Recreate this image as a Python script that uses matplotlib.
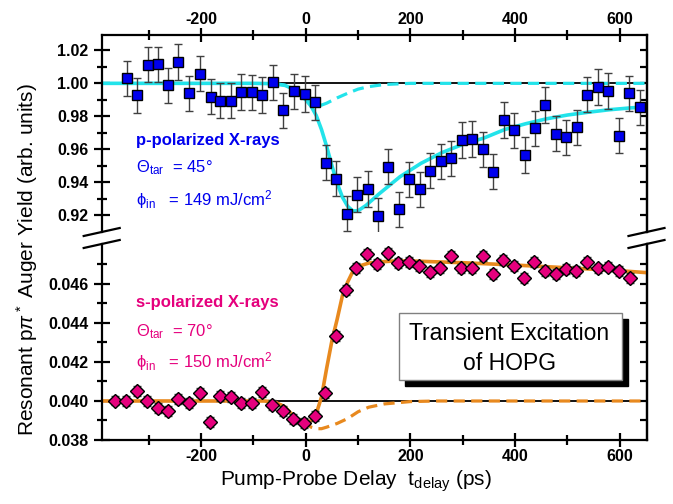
import matplotlib
matplotlib.use('Agg')
import matplotlib.pyplot as plt
import numpy as np
from matplotlib.patches import Rectangle
from matplotlib.lines import Line2D

plt.rcParams['font.family'] = ['Liberation Sans', 'DejaVu Sans']
plt.rcParams['mathtext.fontset'] = 'custom'
plt.rcParams['mathtext.rm'] = 'Liberation Sans'
plt.rcParams['mathtext.it'] = 'Liberation Sans:italic'
plt.rcParams['mathtext.bf'] = 'Liberation Sans:bold'

# p-polarized data (top panel)
p_delay = [-342, -322, -302, -283, -263, -244, -223, -203, -182, -163, -143, -123, -103, -83,
           -63, -43, -22, -2, 18, 38, 58, 78, 97, 118, 138, 158, 178, 198, 218, 238, 258, 277,
           298, 318, 338, 358, 378, 398, 418, 438, 458, 478, 498, 518, 538, 558, 578, 598, 618, 638]
p_yield = [1.003, 0.9927, 1.0113, 1.0115, 0.9988, 1.0129, 0.994, 1.0058, 0.9919, 0.9895, 0.9895,
           0.9947, 0.9945, 0.9929, 1.0006, 0.9836, 0.9952, 0.9935, 0.9885, 0.9519, 0.9422, 0.921,
           0.9325, 0.936, 0.9196, 0.9495, 0.9236, 0.9418, 0.9358, 0.947, 0.9527, 0.9545, 0.9656,
           0.9662, 0.960, 0.9464, 0.9778, 0.9715, 0.9565, 0.9727, 0.9868, 0.9695, 0.9673, 0.9733,
           0.9931, 0.9978, 0.9953, 0.9683, 0.9939, 0.9855]
p_err = 0.0107

# p-polarized fit (solid) and component (dashed)
p_fit_x = [-390, -100, -60, -40, -20, 0, 10, 20, 30, 40, 50, 60, 70, 80, 90, 100, 115, 140, 180,
           220, 260, 300, 340, 380, 420, 460, 500, 540, 580, 620, 652]
p_fit_y = [1.0, 1.0, 0.9998, 0.9988, 0.996, 0.990, 0.9862, 0.9805, 0.972, 0.9616, 0.950, 0.9394,
           0.931, 0.9255, 0.9226, 0.9228, 0.926, 0.933, 0.9434, 0.9515, 0.958, 0.963, 0.9668,
           0.972, 0.9755, 0.9785, 0.9808, 0.9825, 0.984, 0.9851, 0.9858]
p_dash_x = [-60, -40, -20, 0, 10, 20, 30, 40, 60, 80, 100, 120, 150, 200, 652]
p_dash_y = [0.9998, 0.9988, 0.996, 0.990, 0.9882, 0.9870, 0.9868, 0.9880, 0.9912, 0.994, 0.9965,
            0.998, 0.9993, 1.0, 1.0]

# s-polarized data (bottom panel)
s_delay = [-364, -344, -323, -303, -283, -264, -244, -224, -203, -183, -163, -143, -123, -103,
           -84, -64, -43, -24, -3, 18, 37, 58, 76, 95, 116, 137, 157, 177, 197, 217, 237, 256,
           277, 297, 317, 338, 357, 377, 398, 417, 437, 457, 478, 498, 517, 537, 558, 578, 599, 619]
s_yield = [0.04002, 0.0400, 0.0405, 0.0400, 0.03963, 0.0395, 0.04009, 0.03988, 0.04043, 0.03891,
           0.04027, 0.04022, 0.03991, 0.03991, 0.04046, 0.03981, 0.03949, 0.03908, 0.03889,
           0.03923, 0.0404, 0.04333, 0.04569, 0.04682, 0.04754, 0.04703, 0.04761, 0.04706,
           0.04714, 0.04692, 0.04662, 0.0468, 0.04744, 0.0468, 0.0468, 0.04745, 0.0465, 0.04723,
           0.04692, 0.04632, 0.04714, 0.04668, 0.04651, 0.04675, 0.04668, 0.04714, 0.0468,
           0.04689, 0.04668, 0.04632]
s_err = 0.00025

s_fit_x = [-390, -80, -60, -40, -20, 0, 10, 20, 30, 40, 50, 60, 70, 80, 90, 100, 120, 140, 170,
           200, 300, 400, 500, 600, 652]
s_fit_y = [0.040, 0.040, 0.03995, 0.0397, 0.03912, 0.03893, 0.03898, 0.03935, 0.0402, 0.0417,
           0.0431, 0.0442, 0.0454, 0.0461, 0.04665, 0.0469, 0.04707, 0.04713, 0.04718, 0.04718,
           0.04709, 0.04697, 0.04683, 0.04668, 0.04658]
s_dash_x = [-60, -40, -20, 0, 10, 20, 30, 40, 60, 80, 100, 120, 150, 200, 250, 652]
s_dash_y = [0.03995, 0.0397, 0.03912, 0.03885, 0.03866, 0.03858, 0.03858, 0.03866, 0.03885,
            0.0391, 0.03945, 0.03968, 0.03985, 0.03997, 0.040, 0.040]

W, H = 673, 504
def fx(px):
    return px / W
def fy(py):
    return 1 - py / H

cyan = '#22e3ea'
orange = '#e8891e'
blue = '#0000ee'
pink = '#e5007d'

fig = plt.figure(figsize=(W / 100, H / 100), dpi=100)
L, R = 101.7, 647
ax_top = fig.add_axes([fx(L), fy(232), (R - L) / W, (232 - 35) / H])
ax_bot = fig.add_axes([fx(L), fy(440), (R - L) / W, (440 - 244) / H])

xlim = (-390, 652)
for ax in (ax_top, ax_bot):
    ax.set_xlim(*xlim)
    for s in ax.spines.values():
        s.set_linewidth(1.6)
    ax.set_xticks([-200, 0, 200, 400, 600])
    ax.set_xticks([-300, -100, 100, 300, 500], minor=True)
    ax.tick_params(which='both', direction='inout', width=1.6, labelsize=11.5)
    ax.tick_params(axis='x', which='major', length=9.5)
    ax.tick_params(axis='x', which='minor', length=7)
    ax.tick_params(axis='y', which='major', length=12)
    ax.tick_params(axis='y', which='minor', length=7)

ax_top.set_ylim(0.9099, 1.0293)
ax_bot.set_ylim(0.038, 0.04805)

# top panel
ax_top.spines['bottom'].set_visible(False)
ax_top.xaxis.tick_top()
ax_top.tick_params(axis='x', which='both', bottom=False, top=True, labeltop=True,
                   labelbottom=False, pad=1)
ax_top.set_yticks(np.arange(0.92, 1.021, 0.02))
ax_top.set_yticks(np.arange(0.93, 1.011, 0.02), minor=True)
ax_top.set_yticklabels(['%.2f' % v for v in np.arange(0.92, 1.021, 0.02)], fontweight='bold')
ax_top.set_xticklabels(['-200', '0', '200', '400', '600'], fontweight='bold')

ax_top.axhline(1.0, color='black', lw=1.3, zorder=1)
ax_top.plot(p_dash_x, p_dash_y, color=cyan, lw=2.3, ls=(0, (3.5, 2)), zorder=2)
ax_top.plot(p_fit_x, p_fit_y, color=cyan, lw=2.6, zorder=2)
ax_top.errorbar(p_delay, p_yield, yerr=p_err, fmt='s', ms=7.5, mfc=blue, mec='black', mew=1.0,
                ecolor='#404040', elinewidth=1.0, capsize=3, capthick=1.0, zorder=3)

# bottom panel
ax_bot.spines['top'].set_visible(False)
ax_bot.tick_params(axis='x', which='both', top=False, pad=2)
ax_bot.set_yticks(np.arange(0.038, 0.0461, 0.002))
ax_bot.set_yticks(np.arange(0.039, 0.0471, 0.002), minor=True)
ax_bot.set_yticklabels(['%.3f' % v for v in np.arange(0.038, 0.0461, 0.002)], fontweight='bold')
ax_bot.set_xticklabels(['-200', '0', '200', '400', '600'], fontweight='bold')

ax_bot.axhline(0.040, color='black', lw=1.3, zorder=1)
ax_bot.plot(s_dash_x, s_dash_y, color=orange, lw=2.3, ls=(0, (3.5, 2)), zorder=2)
ax_bot.plot(s_fit_x, s_fit_y, color=orange, lw=2.6, zorder=2)
ax_bot.errorbar(s_delay, s_yield, yerr=s_err, fmt='D', ms=7.5, mfc=pink, mec='black', mew=1.0,
                ecolor='#404040', elinewidth=1.0, capsize=3, capthick=1.0, zorder=3)

# right-side inward ticks
for ax, lo, hi, st in ((ax_top, 0.92, 1.021, 0.01), (ax_bot, 0.039, 0.0471, 0.001)):
    ax.tick_params(axis='y', which='both', right=False)
    sec = ax.secondary_yaxis('right')
    sec.set_yticks(np.arange(lo, hi, st))
    sec.tick_params(direction='in', length=5, width=1.6, labelright=False)
    sec.spines['right'].set_linewidth(1.6)

# axis break marks
for xp in (L, R - 0.5):
    for yp in (232, 244):
        fig.add_artist(Line2D([fx(xp - 18), fx(xp + 18)], [fy(yp + 4), fy(yp - 4)],
                              color='black', lw=1.6, transform=fig.transFigure))

# labels
fig.text(fx(27), fy(260), r'Resonant p$\pi^*$ Auger Yield (arb. units)', rotation=90,
         ha='center', va='center', fontsize=15)
fig.text(fx(356), fy(481), r'Pump-Probe Delay  t$_{\rm delay}$ (ps)', ha='center', va='center',
         fontsize=15)

# annotations
fig.text(fx(136), fy(141), 'p-polarized X-rays', color=blue, fontsize=12, fontweight='bold',
         va='center')
fig.text(fx(136), fy(168), 'Θ$_{\\rm tar}$  = 45°', color=blue, fontsize=12, va='center')
fig.text(fx(136), fy(200), 'ϕ$_{\\rm in}$   = 149 mJ/cm$^2$', color=blue, fontsize=12, va='center')

fig.text(fx(136), fy(303), 's-polarized X-rays', color=pink, fontsize=12, fontweight='bold',
         va='center')
fig.text(fx(136), fy(332), 'Θ$_{\\rm tar}$  = 70°', color=pink, fontsize=12, va='center')
fig.text(fx(136), fy(362), 'ϕ$_{\\rm in}$   = 150 mJ/cm$^2$', color=pink, fontsize=12, va='center')

# shadowed title box
bx0, bx1, by0, by1 = 399.3, 622.3, 312.7, 380
fig.add_artist(Rectangle((fx(bx0 + 6), fy(by1 + 6)), (bx1 - bx0) / W, (by1 - by0) / H,
                         transform=fig.transFigure, facecolor='black', edgecolor='black', zorder=5))
fig.add_artist(Rectangle((fx(bx0), fy(by1)), (bx1 - bx0) / W, (by1 - by0) / H,
                         transform=fig.transFigure, facecolor='white', edgecolor='#808080',
                         lw=1.0, zorder=6))
fig.text(fx(509), fy(333), 'Transient Excitation', ha='center', va='center', fontsize=16.5, zorder=7)
fig.text(fx(510), fy(363), 'of HOPG', ha='center', va='center', fontsize=16.5, zorder=7)

fig.savefig('out.png', dpi=100)
